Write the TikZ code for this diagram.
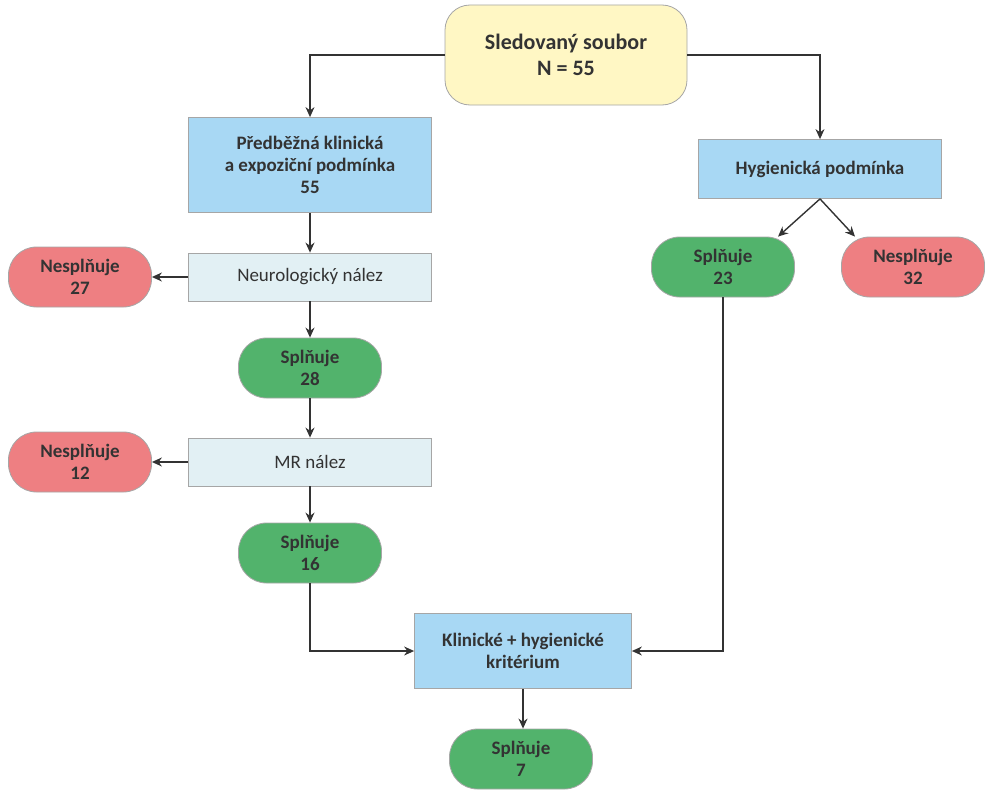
\documentclass[tikz,border=0pt]{standalone}
\usepackage{fontspec}
\setmainfont{Carlito}
\usetikzlibrary{arrows.meta}
\definecolor{yel}{HTML}{FFF7C4}
\definecolor{blu}{HTML}{A8D8F4}
\definecolor{lbl}{HTML}{E2F0F4}
\definecolor{red}{HTML}{EE7F82}
\definecolor{grn}{HTML}{52B36C}
\begin{document}
\begin{tikzpicture}[x=1pt,y=-1pt,
 base/.style={draw=gray!70,line width=0.8pt,align=center,font=\fontsize{19}{22}\selectfont\bfseries,text=black!80,inner sep=0pt},
 box/.style={base,fill=blu},
 lbox/.style={base,fill=lbl,font=\fontsize{19}{22}\selectfont},
 pill/.style={base,rounded corners=28pt,minimum width=143pt,minimum height=60pt},
 ok/.style={pill,fill=grn},
 no/.style={pill,fill=red},
 ar/.style={-{Stealth[length=10pt,width=9pt]},line width=1.4pt,draw=black!80}]
\useasboundingbox (0,0) rectangle (992,800);
\node[base,fill=yel,rounded corners=25pt,minimum width=242pt,minimum height=100pt,font=\fontsize{22}{26}\selectfont\bfseries] (top) at (566,55) {Sledovaný soubor\\N = 55};
\node[box,minimum width=243pt,minimum height=95pt] (pk) at (310,165) {Předběžná klinická\\a expoziční podmínka\\55};
\node[box,minimum width=243pt,minimum height=59pt] (hy) at (820,169) {Hygienická podmínka};
\node[lbox,minimum width=243pt,minimum height=48pt] (neu) at (310,277) {Neurologický nález};
\node[no] (n27) at (80,277) {Nesplňuje\\27};
\node[ok] (s28) at (310,368) {Splňuje\\28};
\node[lbox,minimum width=243pt,minimum height=48pt] (mr) at (310,462) {MR nález};
\node[no] (n12) at (80,462) {Nesplňuje\\12};
\node[ok] (s16) at (310,553) {Splňuje\\16};
\node[ok] (s23) at (723,267) {Splňuje\\23};
\node[no] (n32) at (913,267) {Nesplňuje\\32};
\node[box,minimum width=217pt,minimum height=75pt] (kh) at (523,651) {Klinické + hygienické\\kritérium};
\node[ok] (s7) at (521,759) {Splňuje\\7};
\draw[ar,line width=1.1pt] (top.west) -| (pk.north);
\draw[ar,line width=1.1pt] (top.east) -| (hy.north);
\draw[ar] (pk) -- (neu);
\draw[ar] (neu.west) -- (n27.east);
\draw[ar] (neu) -- (s28);
\draw[ar] (s28) -- (mr);
\draw[ar] (mr.west) -- (n12.east);
\draw[ar] (mr) -- (s16);
\coordinate (hb) at (hy.south);
\draw[ar] (hb) -- ([xshift=55pt]s23.north);
\draw[ar] (hb) -- ([xshift=-58pt]n32.north);
\draw[ar,line width=1.1pt] (s23.south) |- (kh.east);
\draw[ar,line width=1.1pt] (s16.south) |- (kh.west);
\draw[ar] (kh.south) -- (s7.north -| kh.south);
\end{tikzpicture}
\end{document}
